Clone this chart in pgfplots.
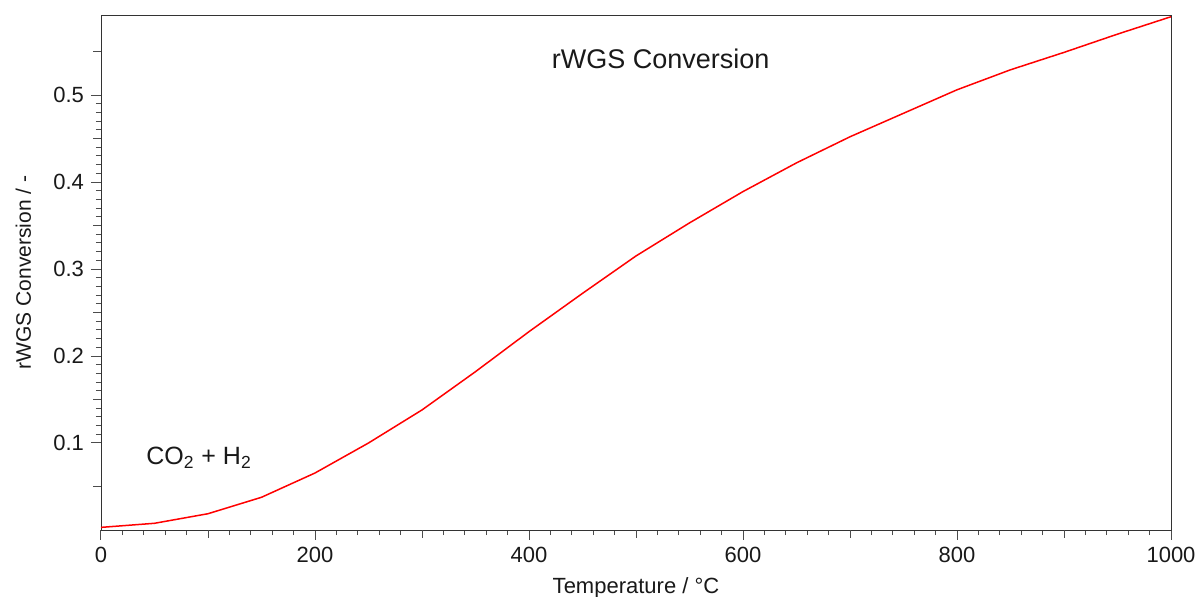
\documentclass[border=0pt]{standalone}
\usepackage{fontspec}
\setmainfont{Liberation Sans}
\usepackage{pgfplots}
\pgfplotsset{compat=1.18}

\begin{document}
\begin{tikzpicture}
\begin{axis}[
  name=ax,
  scale only axis,
  width=535pt, height=257.5pt,
  xmin=0, xmax=1000,
  ymin=0, ymax=0.592,
  xtick={0,200,...,1000},
  ytick={0.1,0.2,0.3,0.4,0.5},
  yticklabels={0.1,0.2,0.3,0.4,0.5},
  minor x tick num=9,
  minor y tick num=9,
  extra x ticks={100,300,500,700,900},
  extra x tick labels={},
  extra y ticks={0.05,0.15,0.25,0.35,0.45,0.55},
  extra y tick labels={},
  extra tick style={major tick length=3.8pt},
  major tick length=5pt,
  minor tick length=2.6pt,
  tick align=outside,
  xtick pos=bottom,
  ytick pos=left,
  axis line style={black!80},
  every tick/.style={black!70, line width=0.5pt},
  /pgf/number format/assume math mode=true,
  /pgf/number format/fixed,
  /pgf/number format/1000 sep={},
  ticklabel style={font=\fontsize{11}{13}\selectfont, text=black!90},
  xlabel={Temperature / °C},
  ylabel={rWGS Conversion / -},
  xlabel style={font=\fontsize{11}{13}\selectfont, text=black!90, yshift=8pt},
  ylabel style={font=\fontsize{10.5}{12}\selectfont, text=black!90, yshift=-4.5pt},
  clip=false,
]
\addplot[red, line width=0.75pt] coordinates {
  (0,0.003) (50,0.0077) (100,0.0187) (150,0.0376) (200,0.0655)
  (250,0.100) (300,0.138) (350,0.182) (400,0.228) (450,0.272)
  (500,0.315) (550,0.353) (600,0.389) (650,0.422) (700,0.452)
  (750,0.479) (800,0.506) (850,0.529) (900,0.549) (950,0.570)
  (1000,0.590)
};
\node[text=black!90, font=\fontsize{13.5}{15}\selectfont] at (axis cs:523,0.5414) {rWGS Conversion};
\node[text=black!90, font=\fontsize{12.5}{14}\selectfont] at (axis cs:91.6,0.0828) {CO\textsubscript{2} + H\textsubscript{2}};
\end{axis}
\pgfresetboundingbox
\path (ax.south west) ++(-50.5pt,-33.5pt) rectangle ++(599.5pt,298.5pt);
\end{tikzpicture}
\end{document}
